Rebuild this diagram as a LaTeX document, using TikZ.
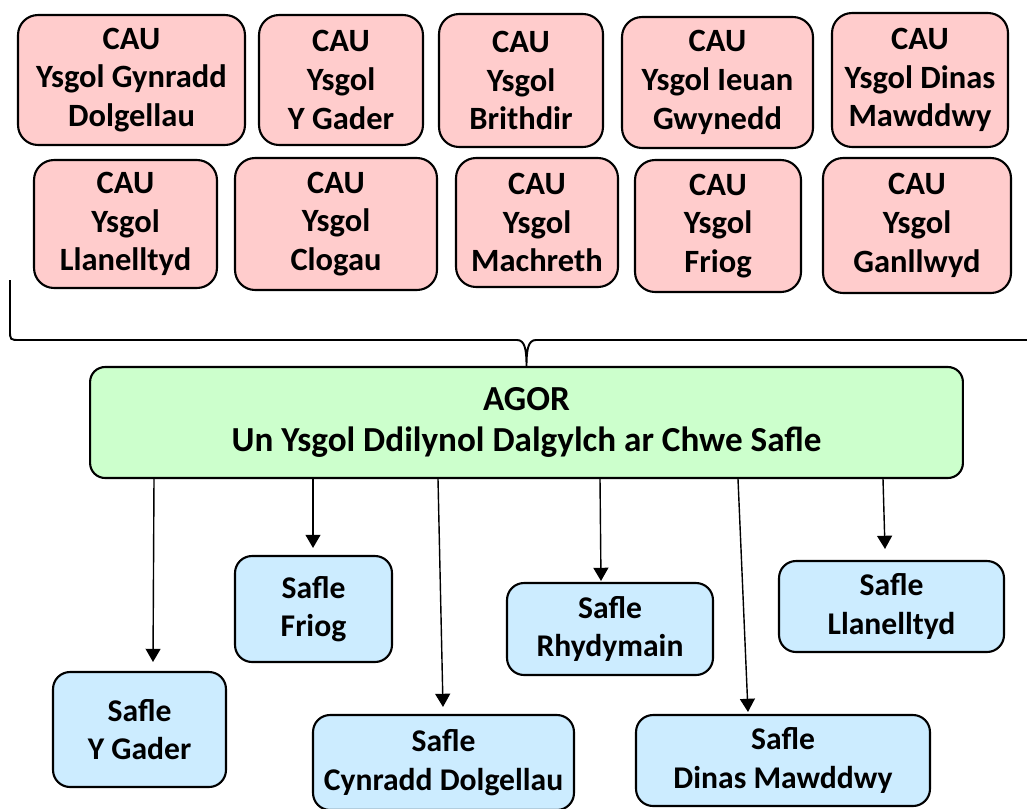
\documentclass[tikz,border=0pt]{standalone}
\usepackage{fontspec}
\setmainfont{Carlito}
\usepackage{tikz}
\usetikzlibrary{calc}
\usetikzlibrary{arrows.meta}
\definecolor{caupink}{HTML}{FFCCCC}
\definecolor{agorgreen}{HTML}{CCFFCC}
\definecolor{safleblue}{HTML}{CCECFF}
\tikzset{
  cau/.style={draw, line width=1.2pt, rounded corners=0.4cm, fill=caupink, align=center, inner sep=0pt,
    font=\bfseries\fontsize{18.5}{22}\selectfont},
  agor/.style={draw, line width=1.2pt, rounded corners=0.3cm, fill=agorgreen, align=center, inner sep=0pt,
    font=\bfseries\fontsize{20}{23.5}\selectfont},
  safle/.style={draw, line width=1.2pt, rounded corners=0.34cm, fill=safleblue, align=center, inner sep=0pt,
    font=\bfseries\fontsize{18}{22}\selectfont},
  arr/.style={line width=0.8pt, -{Triangle[width=8.5pt,length=7.5pt]}},
  brace/.style={line width=1.1pt}
}

\begin{document}
\begin{tikzpicture}[x=0.02cm, y=-0.02cm]       % cau -> agor -> safleoedd
    \path[use as bounding box] (0, 0) rectangle (1027, 808);

    \node[cau, minimum width=4.54cm, minimum height=2.60cm] at (131.5, 80) (dolg) {CAU\\Ysgol Gynradd\\Dolgellau};
    \node[cau, minimum width=3.28cm, minimum height=2.60cm] at (341, 80) (gader) {CAU\\Ysgol\\Y Gader};
    \node[cau, minimum width=3.28cm, minimum height=2.66cm] at (521, 80.5) (brith) {CAU\\Ysgol\\Brithdir};
    \node[cau, minimum width=3.82cm, minimum height=2.62cm] at (717.5, 82.5) (ieuan) {CAU\\Ysgol Ieuan\\Gwynedd};
    \node[cau, minimum width=3.52cm, minimum height=2.68cm] at (920, 80) (dinas) {CAU\\Ysgol Dinas\\Mawddwy};

    \node[cau, minimum width=3.66cm, minimum height=2.56cm] at (125.5, 224) (llan) {CAU\\Ysgol\\Llanelltyd};
    \node[cau, minimum width=4.04cm, minimum height=2.64cm] at (336, 224) (clog) {CAU\\Ysgol\\Clogau};
    \node[cau, minimum width=3.24cm, minimum height=2.58cm] at (537, 222.5) (mach) {CAU\\Ysgol\\Machreth};
    \node[cau, minimum width=3.32cm, minimum height=2.64cm] at (718, 226) (friog) {CAU\\Ysgol\\Friog};
    \node[cau, minimum width=3.76cm, minimum height=2.70cm] at (917, 225.5) (ganl) {CAU\\Ysgol\\Ganllwyd};

    \node[agor, minimum width=17.46cm, minimum height=2.22cm] at (526.5, 422.5) (agor) {AGOR\\Un Ysgol Ddilynol Dalgylch ar Chwe Safle};

    % brace
    \draw[brace] (10, 280) -- (10, 330) .. controls (10, 340) .. (20, 340) -- (517, 340)
        .. controls (525, 340) and (526.5, 350) .. (agor.north)
        .. controls (526.5, 350) and (528, 340) .. (536, 340) -- (1040, 340);

    \node[safle, minimum width=3.46cm, minimum height=2.30cm] at (139.5, 729.5) (sgader) {Safle\\Y Gader};
    \node[safle, minimum width=3.14cm, minimum height=2.12cm] at (313.5, 609) (sfriog) {Safle\\Friog};
    \node[safle, minimum width=5.22cm, minimum height=1.90cm] at (443.5, 762.5) (scynr) {Safle\\Cynradd Dolgellau};
    \node[safle, minimum width=4.12cm, minimum height=1.84cm] at (610, 629) (srhyd) {Safle\\Rhydymain};
    \node[safle, minimum width=5.88cm, minimum height=1.82cm] at (783, 760.5) (sdinas) {Safle\\Dinas Mawddwy};
    \node[safle, minimum width=4.50cm, minimum height=1.82cm] at (891.5, 606.5) (sllan) {Safle\\Llanelltyd};

    \draw[arr] ($(agor.south)+(-372.5, 0)$) -- ($(sgader.north)+(13.5, -9)$);
    \draw[arr] ($(agor.south)+(-213.5, 0)$) -- ($(sfriog.north)+(-0.5, -7)$);
    \draw[arr] ($(agor.south)+(-88.5, 0)$) -- ($(scynr.north)+(-0.5, -7)$);
    \draw[arr] ($(agor.south)+(73.5, 0)$) -- ($(srhyd.north)+(-9, -1)$);
    \draw[arr] ($(agor.south)+(211.5, 0)$) -- ($(sdinas.north)+(-35, -2)$);
    \draw[arr] ($(agor.south)+(356.5, 0)$) -- ($(sllan.north)+(-6.5, -11)$);
\end{tikzpicture}
\end{document}
